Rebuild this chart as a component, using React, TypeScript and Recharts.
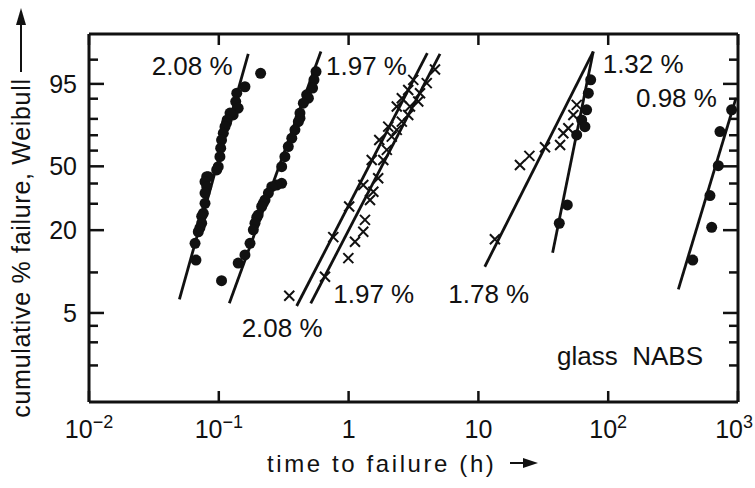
import React from "react";
import { ComposedChart, XAxis, YAxis, Scatter, Line, ReferenceDot, Label } from "recharts";

// [time to failure (h), cumulative failure (%)]
type Pt = [number, number];

const timeTicks = [0.01, 0.1, 1, 10, 100, 1000];
const percentTicks = [2, 3, 4, 5, 10, 20, 30, 40, 50, 60, 70, 80, 90, 95, 99];
const percentLabels = [5, 20, 50, 95];
const percentRange: [number, number] = [1.05, 99.93];

// 2.08 % water content, solid circles
const dots208: Pt[] = [
  [0.21, 97.3], [0.159, 94.2], [0.1375, 92.1], [0.135, 88.8], [0.141, 85.7],
  [0.129, 82.2], [0.122, 83.2], [0.116, 79.4], [0.1145, 77.5], [0.1116, 75.4],
  [0.1083, 71.3], [0.105, 66.9], [0.1034, 61.6], [0.102, 56.1], [0.099, 49.8],
  [0.0963, 47.8], [0.083, 43.8], [0.0807, 43.8], [0.0783, 41.0], [0.0807, 38.3],
  [0.0783, 35.0], [0.0783, 30.2], [0.076, 26.0], [0.0738, 24.8], [0.0738, 22.3],
  [0.0715, 20.7], [0.0695, 19.5], [0.0656, 16.2], [0.0667, 12.3], [0.105, 8.7],
];
const fit208: Pt[] = [[0.0497, 6.33], [0.1686, 99.39]];

// 1.97 %, solid circles
const dots197: Pt[] = [
  [0.561, 97.6], [0.541, 96.0], [0.528, 93.8], [0.475, 91.5], [0.49, 90.2],
  [0.448, 88.1], [0.422, 83.2], [0.422, 80.4], [0.41, 78.4], [0.386, 73.4],
  [0.365, 68.1], [0.343, 62.6], [0.323, 56.1], [0.305, 49.8], [0.305, 40.1],
  [0.279, 39.2], [0.256, 38.3], [0.241, 35.0], [0.227, 31.7], [0.22, 30.2],
  [0.214, 28.8], [0.201, 25.3], [0.196, 24.4], [0.19, 22.3], [0.1845, 20.1],
  [0.174, 16.2], [0.159, 13.4], [0.141, 11.7],
];
const fit197: Pt[] = [[0.1205, 5.91], [0.612, 99.51]];

// 2.08 %, crosses
const cross208: Pt[] = [
  [0.349, 6.73], [0.762, 17.9], [1.01, 28.8], [1.297, 39.2], [1.507, 54.0],
  [1.723, 66.9], [2.02, 75.4], [2.35, 86.5], [2.57, 90.2], [2.88, 93.2], [3.15, 96.0],
];
const fitCross208: Pt[] = [[0.398, 5.64], [4.04, 99.43]];

// 1.97 %, crosses
const cross197: Pt[] = [
  [0.658, 9.3], [0.995, 12.7], [1.12, 16.6], [1.297, 19.5], [1.337, 23.5],
  [1.462, 31.7], [1.55, 35.7], [1.69, 42.9], [1.85, 54.0], [1.97, 60.5],
  [2.15, 69.1], [2.35, 73.4], [2.57, 78.4], [2.88, 82.2], [2.97, 86.5],
  [3.44, 88.8], [3.55, 92.1], [4.0, 95.2], [4.63, 97.9],
];
const fitCross197: Pt[] = [[0.511, 5.91], [5.06, 99.39]];

// 1.78 %, crosses
const cross178: Pt[] = [
  [13.4, 17.3], [20.9, 50.8], [24.7, 56.6], [32.6, 62.2], [42.6, 63.7],
  [45.1, 71.3], [49.3, 74.4], [53.9, 82.2], [57.2, 87.3],
];
const fit178: Pt[] = [[11.2, 11.0], [76.7, 99.51]];

// 1.32 %, solid circles
const dots132: Pt[] = [
  [42.0, 22.3], [48.4, 29.5], [57.2, 70.2], [62.5, 79.4], [66.2, 75.4],
  [68.2, 84.9], [70.3, 92.1], [73.3, 96.0],
];
const fit132: Pt[] = [[37.3, 13.9], [76.7, 99.51]];

// 0.98 %, solid circles
const dots098: Pt[] = [
  [448, 12.3], [627, 20.9], [608, 33.8], [705, 50.4], [726, 72.3], [893, 84.9],
];
const fit098: Pt[] = [[347, 7.5], [966, 90.3]];

// curve labels, anchored at the start of their baseline
const annotations: { text: string; t: number; p: number }[] = [
  { text: "2.08 %", t: 0.0304, p: 97.03 },
  { text: "1.97 %", t: 0.67, p: 97.03 },
  { text: "1.32 %", t: 90.7, p: 97.3 },
  { text: "0.98 %", t: 163.7, p: 86.3 },
  { text: "1.97 %", t: 0.762, p: 5.94 },
  { text: "1.78 %", t: 5.86, p: 5.94 },
  { text: "2.08 %", t: 0.15, p: 3.29 },
  { text: "glass  NABS", t: 40.4, p: 2.02 },
];

// Weibull probability paper: ordinate is ln(-ln(1 - F))
const toW = (pct: number) => Math.log(-Math.log(1 - pct / 100));
const fromW = (w: number) => 100 * (1 - Math.exp(-Math.exp(w)));
const toRows = (pts: Pt[]) => pts.map(([t, p]) => ({ x: t, y: toW(p) }));

const FONT = "'Liberation Sans', Arial, Helvetica, sans-serif";
const INK = "#111";

const Dot = (props: any) => <circle cx={props.cx} cy={props.cy} r={5.5} fill={INK} />;
const Cross = (props: any) => {
  const { cx, cy } = props;
  const h = 5;
  return (
    <path
      d={`M${cx - h},${cy - h}L${cx + h},${cy + h}M${cx - h},${cy + h}L${cx + h},${cy - h}`}
      stroke={INK}
      strokeWidth={2}
      fill="none"
    />
  );
};

const tickLen = (value: number) => (percentLabels.includes(Math.round(fromW(value))) ? 15 : 9);

function LeftTick(props: any) {
  const { x, y, payload } = props;
  const pct = Math.round(fromW(payload.value));
  const major = percentLabels.includes(pct);
  return (
    <g>
      <line x1={x} x2={x + tickLen(payload.value)} y1={y} y2={y} stroke={INK} strokeWidth={2.5} />
      {major && (
        <text x={x - 12} y={y + 9} textAnchor="end" fontSize={25} fontFamily={FONT} fill={INK}>
          {pct}
        </text>
      )}
    </g>
  );
}

function RightTick(props: any) {
  const { x, y, payload } = props;
  return <line x1={x - tickLen(payload.value)} x2={x} y1={y} y2={y} stroke={INK} strokeWidth={2.5} />;
}

function BottomTick(props: any) {
  const { x, y, payload } = props;
  const exp = Math.round(Math.log10(payload.value));
  const isLast = payload.value === timeTicks[timeTicks.length - 1];
  let label: React.ReactNode;
  if (exp === 0) label = "1";
  else if (exp === 1) label = "10";
  else
    label = (
      <>
        10
        <tspan fontSize={18} dy={-10}>
          {exp < 0 ? `\u2212${-exp}` : `${exp}`}
        </tspan>
      </>
    );
  return (
    <g>
      <line x1={x} x2={x} y1={y} y2={y - 11} stroke={INK} strokeWidth={2.5} />
      <text
        x={isLast ? x + 15 : x}
        y={y + 36}
        textAnchor={isLast ? "end" : "middle"}
        fontSize={25}
        fontFamily={FONT}
        fill={INK}
      >
        {label}
      </text>
    </g>
  );
}

function TopTick(props: any) {
  const { x, y } = props;
  return <line x1={x} x2={x} y1={y} y2={y + 11} stroke={INK} strokeWidth={2.5} />;
}

function XTitle(props: any) {
  const { x, y } = props.viewBox;
  const tx = x + 178;
  const ty = y + 70;
  return (
    <g>
      <text x={tx} y={ty} fontSize={24} letterSpacing={2.6} fontFamily={FONT} fill={INK}>
        time to failure (h)
      </text>
      <line x1={tx + 243} x2={tx + 262} y1={ty - 9} y2={ty - 9} stroke={INK} strokeWidth={2} />
      <polygon points={`${tx + 271},${ty - 9} ${tx + 256},${ty - 14} ${tx + 256},${ty - 4}`} fill={INK} />
    </g>
  );
}

function YTitle(props: any) {
  const { x, y, width, height } = props.viewBox;
  const bx = x + width - 59;
  const cy = y + height / 2 + 30;
  return (
    <g>
      <text
        x={bx}
        y={cy}
        transform={`rotate(-90, ${bx}, ${cy})`}
        textAnchor="middle"
        fontSize={25}
        letterSpacing={0.7}
        fontFamily={FONT}
        fill={INK}
      >
        cumulative % failure, Weibull
      </text>
      <line x1={bx - 9} x2={bx - 9} y1={y + 38} y2={y - 12} stroke={INK} strokeWidth={2} />
      <polygon points={`${bx - 9},${y - 26} ${bx - 14},${y - 9} ${bx - 4},${y - 9}`} fill={INK} />
    </g>
  );
}

const fits: Pt[][] = [fit208, fit197, fitCross208, fitCross197, fit178, fit132, fit098];
const dotSets: Pt[][] = [dots208, dots197, dots132, dots098];
const crossSets: Pt[][] = [cross208, cross197, cross178];

export default function App() {
  const yDomain: [number, number] = [toW(percentRange[0]), toW(percentRange[1])];
  const yTicks = percentTicks.map(toW);
  const axisLine = { stroke: INK, strokeWidth: 3 };
  return (
    <div style={{ position: "absolute", left: 0, top: 0, background: "#fff" }}>
      <ComposedChart width={755} height={488} margin={{ top: 33, right: 16, bottom: 85, left: 88 }}>
        <XAxis
          xAxisId="b"
          dataKey="x"
          type="number"
          scale="log"
          domain={[timeTicks[0], timeTicks[timeTicks.length - 1]]}
          ticks={timeTicks}
          interval={0}
          allowDataOverflow
          height={1}
          tickSize={0}
          tickMargin={0}
          tickLine={false}
          axisLine={axisLine}
          tick={BottomTick}
          label={<Label content={XTitle} />}
        />
        <XAxis
          xAxisId="t"
          orientation="top"
          dataKey="x"
          type="number"
          scale="log"
          domain={[timeTicks[0], timeTicks[timeTicks.length - 1]]}
          ticks={timeTicks}
          interval={0}
          allowDataOverflow
          height={1}
          tickSize={0}
          tickMargin={0}
          tickLine={false}
          axisLine={axisLine}
          tick={TopTick}
        />
        <YAxis
          yAxisId="l"
          dataKey="y"
          type="number"
          domain={yDomain}
          ticks={yTicks}
          interval={0}
          allowDataOverflow
          width={1}
          tickSize={0}
          tickMargin={0}
          tickLine={false}
          axisLine={axisLine}
          tick={LeftTick}
          label={<Label content={YTitle} />}
        />
        <YAxis
          yAxisId="r"
          orientation="right"
          dataKey="y"
          type="number"
          domain={yDomain}
          ticks={yTicks}
          interval={0}
          allowDataOverflow
          width={1}
          tickSize={0}
          tickMargin={0}
          tickLine={false}
          axisLine={axisLine}
          tick={RightTick}
        />
        {fits.map((f, i) => (
          <Line
            key={`fit${i}`}
            xAxisId="b"
            yAxisId="l"
            data={toRows(f)}
            dataKey="y"
            type="linear"
            stroke={INK}
            strokeWidth={2.8}
            dot={false}
            activeDot={false}
            isAnimationActive={false}
          />
        ))}
        {dotSets.map((s, i) => (
          <Scatter
            key={`dots${i}`}
            xAxisId="b"
            yAxisId="l"
            data={toRows(s)}
            dataKey="y"
            shape={Dot}
            isAnimationActive={false}
          />
        ))}
        {crossSets.map((s, i) => (
          <Scatter
            key={`cross${i}`}
            xAxisId="b"
            yAxisId="l"
            data={toRows(s)}
            dataKey="y"
            shape={Cross}
            isAnimationActive={false}
          />
        ))}
        {annotations.map((a, i) => (
          <ReferenceDot
            key={`ann${i}`}
            xAxisId="b"
            yAxisId="l"
            x={a.t}
            y={toW(a.p)}
            ifOverflow="visible"
            shape={(p: any) => (
              <text
                x={p.cx}
                y={p.cy}
                fontSize={26}
                fontFamily={FONT}
                fill={INK}
                style={{ whiteSpace: "pre" }}
              >
                {a.text}
              </text>
            )}
          />
        ))}
      </ComposedChart>
    </div>
  );
}
